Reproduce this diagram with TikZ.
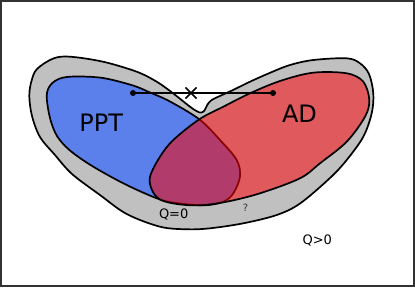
\documentclass[tikz,border=0pt]{standalone}
\usepackage{fontspec}
\setmainfont{DejaVu Sans}
\usetikzlibrary{shapes.misc}
\definecolor{pptblue}{RGB}{91,128,235}
\definecolor{adred}{RGB}{224,90,93}
\definecolor{mixpurple}{RGB}{177,60,108}
\definecolor{outergray}{RGB}{192,192,192}
\definecolor{edgered}{RGB}{140,0,0}
\definecolor{framegray}{RGB}{50,50,50}
\begin{document}
\begin{tikzpicture}[x=1pt,y=-1pt,
  edge/.style={line width=1.7pt, line join=round},
  bigtext/.style={anchor=base, inner sep=0pt, font=\fontsize{24}{28}\selectfont},
  smalltext/.style={anchor=base, inner sep=0pt, font=\fontsize{13}{15}\selectfont},
  tinytext/.style={anchor=base, inner sep=0pt, text=black!80, font=\fontsize{10}{12}\selectfont},
  dotmark/.style={circle, fill=black, inner sep=0pt, minimum size=6pt},
  crossmark/.style={draw, cross out, line width=1.6pt, inner sep=0pt, minimum size=9.5pt}]
\useasboundingbox (0,0) rectangle (415,287);
\def\outerpath{plot[smooth cycle, tension=0.55] coordinates {
 (29.3,96) (31.5,81) (37,69) (53.3,58.5) (70,56.7) (103,61.7) (136.7,71.7)
 (156.7,81.7) (172,92.5) (190,106.7) (197,111.3) (201,112.6) (204.5,110.5)
 (207.2,105) (211,100.5) (217,97.3) (233,90) (250,81.7) (270,72.8) (290,65)
 (313.3,60) (346.7,58.3) (360,63.3) (369,74) (373.3,93.3) (371.7,113.3)
 (363.3,136.7) (346.7,160) (330,178) (300,203.5) (276.7,215) (243.3,223.3)
 (210,228.3) (186.7,229.3) (160,226.7) (126.7,214) (100,195) (72,174)
 (55,155) (40,137) (32,116)}}
\def\bluepath{plot[smooth cycle, tension=0.55] coordinates {
 (46.7,96) (50.5,85) (60,78.5) (75,76.5) (103,78) (133,85.5) (150,92.5)
 (170,101.5) (199.3,119.3) (220,140) (236.7,160) (240,176.5) (233.3,193.3)
 (223.3,201.7) (205,205.3) (180,203.5) (160,199.5) (126.7,185) (93.3,166.7)
 (70,150.5) (57,136) (50,118)}}
\def\redpath{plot[smooth cycle, tension=0.55] coordinates {
 (150,176.7) (160,156.7) (173.3,140) (199.3,119.3) (223.3,106.7) (250,93.3)
 (280,81) (313,72.7) (346.7,73.3) (363.3,81.7) (369.3,100) (365,116.7)
 (346.7,141.7) (320,163.3) (300,178.3) (260,193.3) (226.7,201.7) (200,205.3)
 (176.7,204) (160,199.5) (152,190)}}
% frame
\draw[framegray, line width=2pt] (1,1) rectangle (414,286);
% outer region Q>0 boundary
\fill[outergray] \outerpath;
\draw[edge] \outerpath;
% PPT
\fill[pptblue] \bluepath;
\draw[edge] \bluepath;
% AD
\fill[adred] \redpath;
\begin{scope}
  \clip \bluepath;
  \fill[mixpurple] \redpath;
\end{scope}
\begin{scope}
  \clip \redpath;
  \draw[edge, edgered] \bluepath;
\end{scope}
\draw[edge] \redpath;
% connector with cross
\node[dotmark] (pa) at (133,93) {};
\node[dotmark] (pb) at (273,93) {};
\draw[line width=1.6pt] (pa.center) -- (pb.center);
\node[crossmark] (xm) at (191,93) {};
% labels
\node[bigtext] (ppt) at (101.2,131.7) {PPT};
\node[bigtext] (ad) at (299.5,122.3) {AD};
\node[smalltext] (q0) at (173.7,218) {Q=0};
\node[tinytext] (qm) at (245.5,211.7) {?};
\node[smalltext] (qp) at (317.3,244.8) {Q>0};
\end{tikzpicture}
\end{document}
